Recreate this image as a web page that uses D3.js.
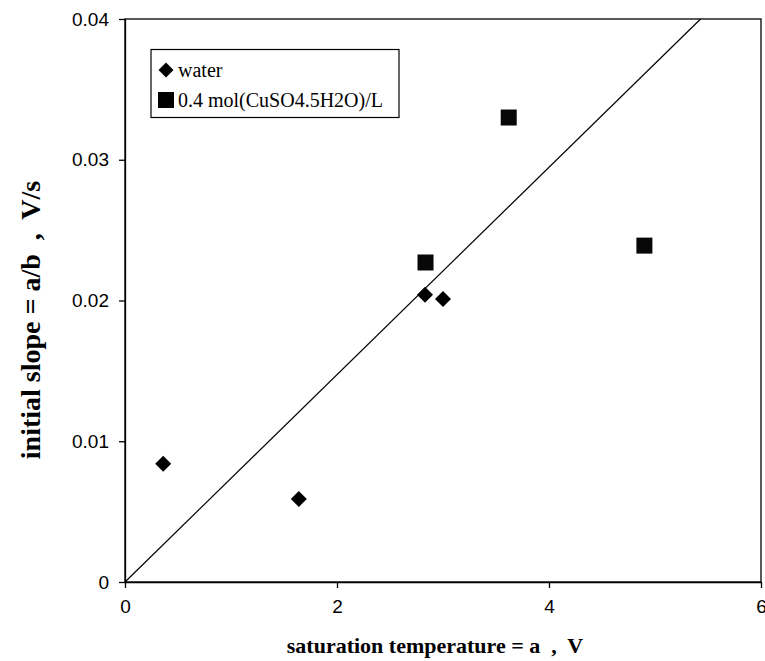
<!DOCTYPE html>
<html><head><meta charset="utf-8">
<script src="https://cdn.jsdelivr.net/npm/d3@7"></script>
<style>body{margin:0;background:#fff}svg{display:block}</style>
</head><body>
<svg id="c" width="765" height="661"></svg>
<script>
const waterX = [0.36, 1.64, 2.83, 3.00];
const waterY = [0.0084, 0.0059, 0.0204, 0.0201];
const cuX = [2.835, 3.62, 4.90];
const cuY = [0.0227, 0.0330, 0.0239];
const lineX = [0, 5.43];
const lineY = [0, 0.04];
const xTicks = [0, 2, 4, 6];
const yTicks = [0, 0.01, 0.02, 0.03, 0.04];
const yTickLabels = ["0", "0.01", "0.02", "0.03", "0.04"];
const legendLabels = ["water", "0.4 mol(CuSO4.5H2O)/L"];

const svg = d3.select("#c");
const L = 125, R = 761, T = 19, B = 582;
const x = d3.scaleLinear().domain([0, 6]).range([L, R]);
const y = d3.scaleLinear().domain([0, 0.04]).range([B, T]);

svg.append("rect").attr("x", L).attr("y", T).attr("width", R - L).attr("height", B - T)
  .attr("fill", "none").attr("stroke", "#000").attr("stroke-width", 1.3);

const xa = svg.append("g").attr("transform", `translate(0,${B})`)
  .call(d3.axisBottom(x).tickValues(xTicks).tickSize(6).tickSizeOuter(0).tickPadding(12).tickFormat(d3.format("d")));
const ya = svg.append("g").attr("transform", `translate(${L},0)`)
  .call(d3.axisLeft(y).tickValues(yTicks).tickSize(6).tickSizeOuter(0).tickPadding(10).tickFormat((d, i) => yTickLabels[i]));
[xa, ya].forEach(g => {
  g.select(".domain").attr("stroke", "#000").attr("stroke-width", 1.3);
  g.selectAll(".tick line").attr("stroke", "#000").attr("stroke-width", 1.3);
  g.selectAll(".tick text").attr("font-family", "Liberation Sans, Arial, sans-serif")
    .attr("font-size", 19).attr("fill", "#000");
});

svg.append("line").attr("x1", x(lineX[0])).attr("y1", y(lineY[0]))
  .attr("x2", x(lineX[1])).attr("y2", y(lineY[1]))
  .attr("stroke", "#000").attr("stroke-width", 1.2);

const diamond = s => `M0,${-s}L${s},0L0,${s}L${-s},0Z`;
svg.append("g").selectAll("path").data(waterX).join("path")
  .attr("d", diamond(8)).attr("fill", "#000")
  .attr("transform", (d, i) => `translate(${x(d)},${y(waterY[i])})`);
svg.append("g").selectAll("rect").data(cuX).join("rect")
  .attr("x", d => x(d) - 8).attr("y", (d, i) => y(cuY[i]) - 8)
  .attr("width", 16).attr("height", 16).attr("fill", "#080808");

const lg = svg.append("g");
lg.append("rect").attr("x", 151).attr("y", 49.5).attr("width", 248).attr("height", 68)
  .attr("fill", "#fff").attr("stroke", "#000").attr("stroke-width", 1.2);
lg.append("path").attr("d", diamond(7.5)).attr("fill", "#000").attr("transform", "translate(166,70)");
lg.append("rect").attr("x", 158).attr("y", 92).attr("width", 16).attr("height", 16).attr("fill", "#000");
lg.selectAll("text").data(legendLabels).join("text")
  .attr("x", 178).attr("y", (d, i) => 77 + i * 30)
  .attr("font-family", "Liberation Serif, Times New Roman, serif").attr("font-size", 20)
  .text(d => d);

svg.append("text").attr("x", 435).attr("y", 653).attr("text-anchor", "middle")
  .attr("font-family", "Liberation Serif, Times New Roman, serif").attr("font-weight", "bold")
  .attr("font-size", 22).style("white-space", "pre")
  .text("saturation temperature = a  ,  V");
svg.append("text").attr("transform", "translate(40,320) rotate(-90)").attr("text-anchor", "middle")
  .attr("font-family", "Liberation Serif, Times New Roman, serif").attr("font-weight", "bold")
  .attr("font-size", 28).style("white-space", "pre")
  .text("initial slope = a/b  ,  V/s");
</script>
</body></html>
